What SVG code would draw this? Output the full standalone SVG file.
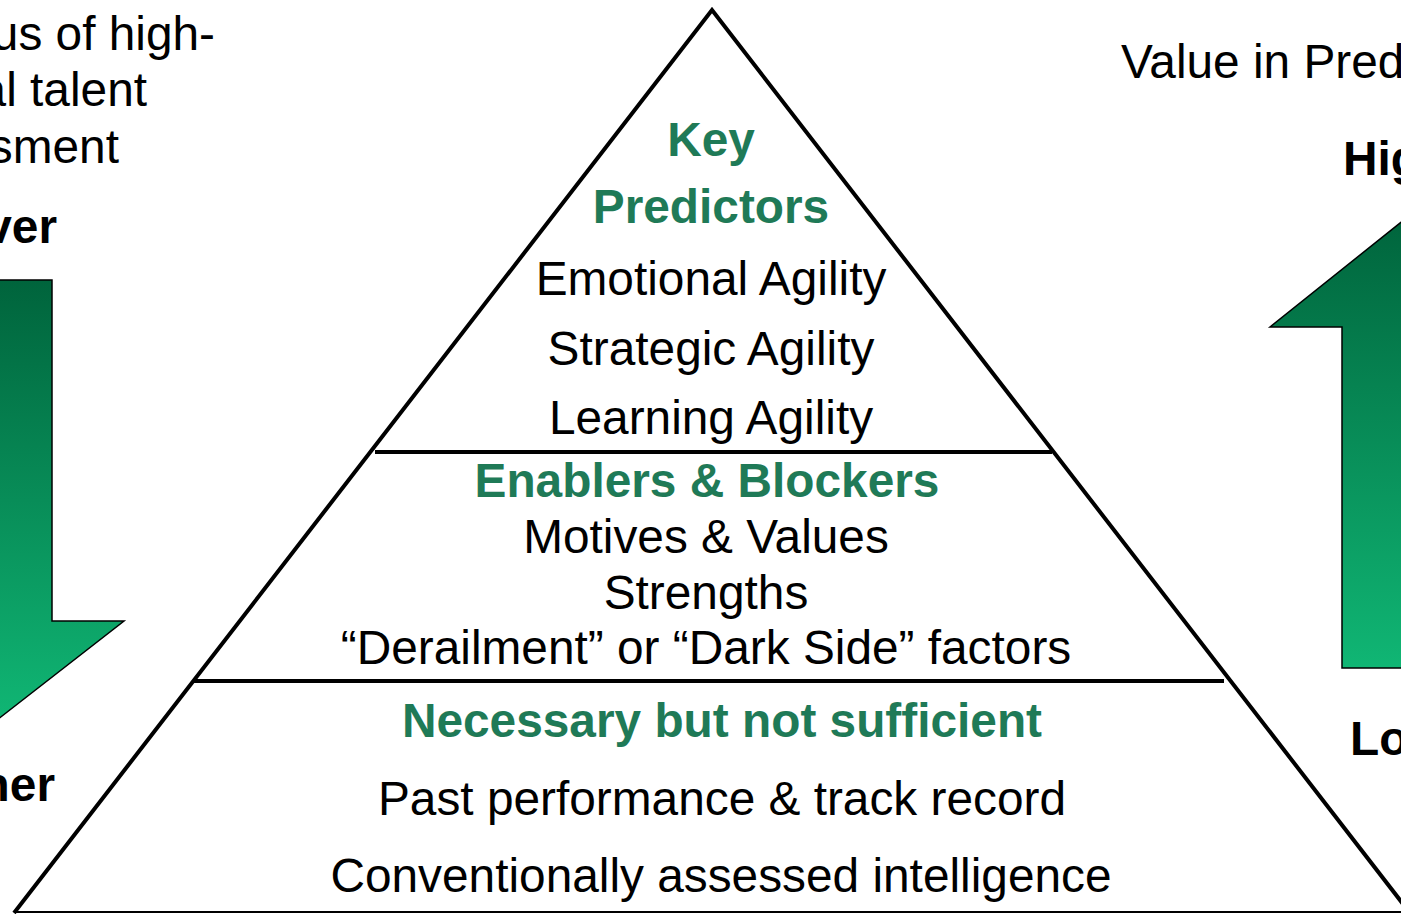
<svg xmlns="http://www.w3.org/2000/svg" width="1401" height="914" viewBox="0 0 1401 914">
<style>
.t{font-family:"Liberation Sans",Arial,sans-serif;font-size:47.8px;fill:#000}
.b{font-weight:bold}
.g{fill:#1f7a57;font-weight:bold}
.c{text-anchor:middle}
.e{text-anchor:end}
.edge{stroke:#000;stroke-width:4;fill:none}
.arr{stroke:#000;stroke-width:1.5}
</style>
<defs>
<linearGradient id="gl" gradientUnits="userSpaceOnUse" x1="0" y1="280" x2="0" y2="720">
<stop offset="0" stop-color="#00643c"/>
<stop offset="1" stop-color="#10b674"/>
</linearGradient>
<linearGradient id="gr" gradientUnits="userSpaceOnUse" x1="0" y1="215" x2="0" y2="668">
<stop offset="0" stop-color="#00643c"/>
<stop offset="1" stop-color="#10b674"/>
</linearGradient>
</defs>
<g id="left-arrow">
<polygon class="arr" fill="url(#gl)" points="-80,280 52,280 52,621 124,621 -30,741 -184,621 -80,621"/>
<text class="t e" x="215" y="50">us of high-</text>
<text class="t e" x="147" y="106">al talent</text>
<text class="t e" x="119" y="163">sment</text>
<text class="t b e" x="57" y="243">ver</text>
<text class="t b e" x="55" y="801">her</text>
</g>
<g id="right-arrow">
<polygon class="arr" fill="url(#gr)" points="1342,668 1342,327 1270,327 1420,207 1570,327 1500,327 1500,668"/>
<text class="t" x="1121" y="78">Value in Pred</text>
<text class="t b" x="1343" y="175">Hig</text>
<text class="t b" x="1350" y="755">Lo</text>
</g>
<g id="connectors">
<polyline class="edge" points="14,913 712,10 1410,913"/>
<line x1="14" y1="912" x2="1401" y2="912" stroke="#000" stroke-width="2"/>
<line x1="375" y1="452" x2="1052" y2="452" stroke="#000" stroke-width="4"/>
<line x1="194" y1="681" x2="1224" y2="681" stroke="#000" stroke-width="4"/>
</g>
<g id="tier-top">
<text class="t g c" x="711" y="156">Key</text>
<text class="t g c" x="711" y="223">Predictors</text>
<text class="t c" x="711" y="295">Emotional Agility</text>
<text class="t c" x="711" y="365">Strategic Agility</text>
<text class="t c" x="711" y="434">Learning Agility</text>
</g>
<g id="tier-middle">
<text class="t g c" x="707" y="497">Enablers &amp; Blockers</text>
<text class="t c" x="706" y="553">Motives &amp; Values</text>
<text class="t c" x="706" y="609">Strengths</text>
<text class="t c" x="706" y="664">“Derailment” or “Dark Side” factors</text>
</g>
<g id="tier-bottom">
<text class="t g c" x="722" y="737">Necessary but not sufficient</text>
<text class="t c" x="722" y="815">Past performance &amp; track record</text>
<text class="t c" x="721" y="892">Conventionally assessed intelligence</text>
</g>
</svg>
